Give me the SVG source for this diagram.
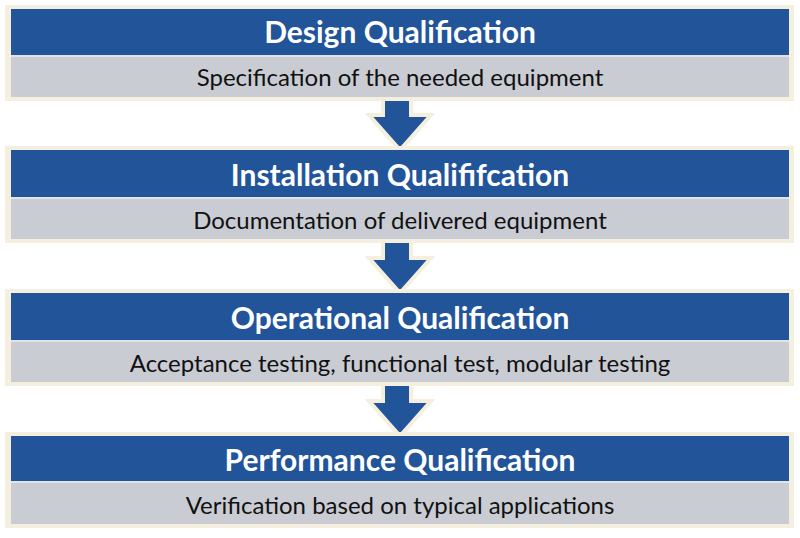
<svg xmlns="http://www.w3.org/2000/svg" width="800" height="538" viewBox="0 0 800 538">
<defs>
<style>
.frame{fill:#f4efdf;}
.head{fill:#22549a;}
.body{fill:#c9ccd3;}
.sep{fill:#dfe3ea;}
.title{font-family:Lato,"Open Sans",sans-serif;font-weight:bold;font-size:30px;fill:#ffffff;text-anchor:middle;}
.sub{font-family:Lato,"Open Sans",sans-serif;font-size:24px;fill:#111111;text-anchor:middle;}
.arrow{fill:#22549a;stroke:#f4efdf;stroke-width:4;stroke-linejoin:miter;}
</style>
</defs>
<rect width="800" height="538" fill="#ffffff"/>
<g id="connectors">
<path class="arrow" d="M383,96 L411,96 L411,115 L431,115 L400,150 L369,115 L383,115 Z"/>
<path class="arrow" d="M383,239 L411,239 L411,258 L431,258 L400,293 L369,258 L383,258 Z"/>
<path class="arrow" d="M383,382 L411,382 L411,401 L431,401 L400,436 L369,401 L383,401 Z"/>
</g>
<g id="node1">
<rect class="frame" x="5" y="5" width="789" height="96"/>
<rect class="head" x="11" y="9" width="778" height="46"/>
<rect class="sep" x="11" y="55" width="778" height="2"/>
<rect class="body" x="11" y="57" width="778" height="40"/>
<text class="title" x="400" y="43">Design Qualification</text>
<text class="sub" x="400" y="86">Specification of the needed equipment</text>
</g>
<g id="node2">
<rect class="frame" x="5" y="146" width="789" height="97"/>
<rect class="head" x="11" y="150" width="778" height="47"/>
<rect class="sep" x="11" y="197" width="778" height="2"/>
<rect class="body" x="11" y="199" width="778" height="40"/>
<text class="title" x="400" y="186">Installation Qualififcation</text>
<text class="sub" x="400" y="229">Documentation of delivered equipment</text>
</g>
<g id="node3">
<rect class="frame" x="5" y="289" width="789" height="97"/>
<rect class="head" x="11" y="293" width="778" height="47"/>
<rect class="sep" x="11" y="340" width="778" height="2"/>
<rect class="body" x="11" y="342" width="778" height="40"/>
<text class="title" x="400" y="329">Operational Qualification</text>
<text class="sub" x="400" y="372">Acceptance testing, functional test, modular testing</text>
</g>
<g id="node4">
<rect class="frame" x="5" y="432" width="789" height="96"/>
<rect class="head" x="11" y="436" width="778" height="45"/>
<rect class="sep" x="11" y="481" width="778" height="2"/>
<rect class="body" x="11" y="483" width="778" height="41"/>
<text class="title" x="400" y="471">Performance Qualification</text>
<text class="sub" x="400" y="514">Verification based on typical applications</text>
</g>
</svg>
